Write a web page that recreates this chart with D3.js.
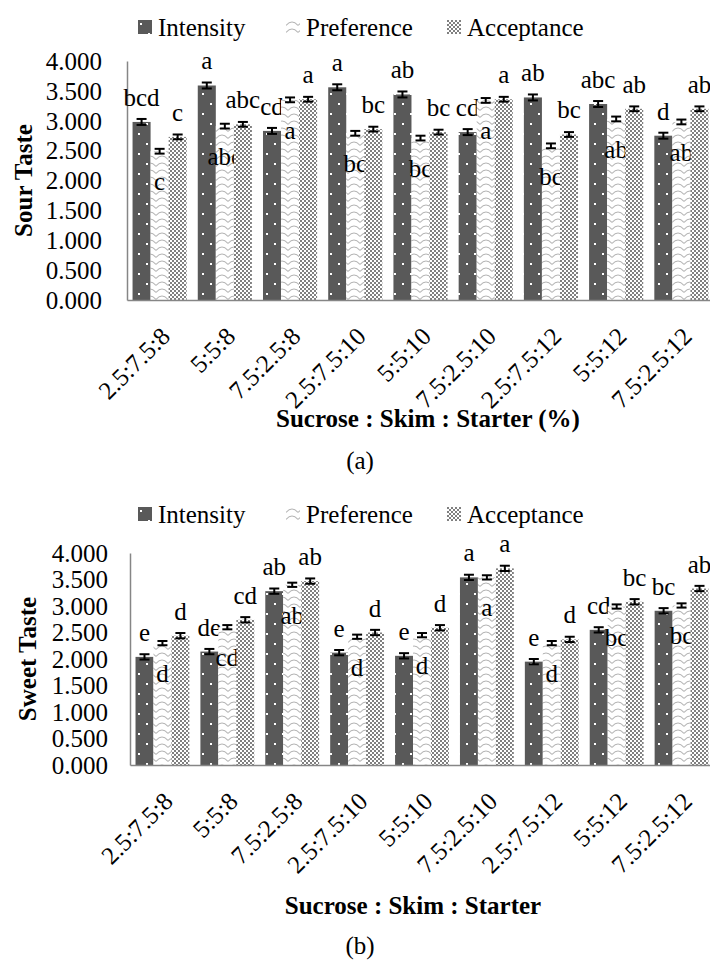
<!DOCTYPE html>
<html>
<head>
<meta charset="utf-8">
<script src="https://cdn.jsdelivr.net/npm/d3@7"></script>
<style>
  body { margin: 0; background: #fff; }
  svg { display: block; }
  text { font-family: "Liberation Serif", "Times New Roman", Times, serif; fill: #000; }
</style>
</head>
<body>
<svg id="chart" width="710" height="960"></svg>
<script>
// treatments (sucrose : skim : starter)
const groups = ["2.5:7.5:8", "5:5:8", "7.5:2.5:8", "2.5:7.5:10", "5:5:10", "7.5:2.5:10", "2.5:7.5:12", "5:5:12", "7.5:2.5:12"]
const seriesNames = ["Intensity", "Preference", "Acceptance"]
const yTicks = [0, 0.5, 1, 1.5, 2, 2.5, 3, 3.5, 4]

// (a) sour taste
const sourIntensity  = [2.98, 3.59, 2.83, 3.56, 3.44, 2.81, 3.39, 3.28, 2.75]
const sourPreference = [2.49, 2.91, 3.35, 2.79, 2.71, 3.34, 2.58, 3.03, 2.98]
const sourAcceptance = [2.73, 2.94, 3.36, 2.86, 2.81, 3.36, 2.77, 3.20, 3.20]
const sourIntensityErr  = [0.05, 0.05, 0.05, 0.05, 0.05, 0.05, 0.05, 0.05, 0.05]
const sourPreferenceErr = [0.04, 0.04, 0.04, 0.04, 0.04, 0.04, 0.04, 0.04, 0.04]
const sourAcceptanceErr = [0.04, 0.04, 0.04, 0.04, 0.04, 0.04, 0.04, 0.04, 0.04]
const sourIntensityLbl  = ["bcd", "a", "cd", "a", "ab", "cd", "ab", "abc", "d"]
const sourPreferenceLbl = ["c", "abc", "a", "bc", "bc", "a", "bc", "ab", "ab"]
const sourAcceptanceLbl = ["c", "abc", "a", "bc", "bc", "a", "bc", "ab", "ab"]

// (b) sweet taste
const sweetIntensity  = [2.04, 2.14, 3.28, 2.12, 2.06, 3.54, 1.95, 2.55, 2.91]
const sweetPreference = [2.30, 2.60, 3.40, 2.42, 2.45, 3.54, 2.30, 2.99, 3.01]
const sweetAcceptance = [2.44, 2.74, 3.47, 2.50, 2.59, 3.71, 2.37, 3.08, 3.33]
const sweetIntensityErr  = [0.05, 0.05, 0.05, 0.05, 0.05, 0.05, 0.05, 0.05, 0.05]
const sweetPreferenceErr = [0.04, 0.04, 0.04, 0.04, 0.04, 0.04, 0.04, 0.04, 0.04]
const sweetAcceptanceErr = [0.05, 0.05, 0.05, 0.05, 0.05, 0.05, 0.05, 0.05, 0.05]
const sweetIntensityLbl  = ["e", "de", "ab", "e", "e", "a", "e", "cd", "bc"]
const sweetPreferenceLbl = ["d", "cd", "ab", "d", "d", "a", "d", "bc", "bc"]
const sweetAcceptanceLbl = ["d", "cd", "ab", "d", "d", "a", "d", "bc", "ab"]

const FONT = '"Liberation Serif", "Times New Roman", Times, serif'

const svg = d3.select('#chart')
svg.append('rect').attr('width', 710).attr('height', 960).attr('fill', '#fff')

//fill patterns like the excel ones
const defs = svg.append('defs')
const pInt = defs.append('pattern').attr('id', 'pInt')
    .attr('patternUnits', 'userSpaceOnUse').attr('width', 16).attr('height', 20)
pInt.append('rect').attr('width', 16).attr('height', 20).attr('fill', '#595959')
pInt.append('rect').attr('x', 2).attr('y', 3).attr('width', 2).attr('height', 2).attr('fill', '#fff')
pInt.append('rect').attr('x', 10).attr('y', 13).attr('width', 2).attr('height', 2).attr('fill', '#fff')

const pPref = defs.append('pattern').attr('id', 'pPref')
    .attr('patternUnits', 'userSpaceOnUse').attr('width', 12).attr('height', 7)
pPref.append('rect').attr('width', 12).attr('height', 7).attr('fill', '#fff')
pPref.append('path').attr('d', 'M0,5.5 Q6,-1.5 12,5.5')
    .attr('fill', 'none').attr('stroke', '#b4b4b4').attr('stroke-width', 1.1)

const pAcc = defs.append('pattern').attr('id', 'pAcc')
    .attr('patternUnits', 'userSpaceOnUse').attr('width', 4).attr('height', 4)
pAcc.append('rect').attr('width', 4).attr('height', 4).attr('fill', '#fff')
pAcc.append('rect').attr('width', 2).attr('height', 2).attr('fill', '#808080')
pAcc.append('rect').attr('x', 2).attr('y', 2).attr('width', 2).attr('height', 2).attr('fill', '#808080')

const fills = ['url(#pInt)', 'url(#pPref)', 'url(#pAcc)']
const fmt = d3.format('.3f')

const panels = [
    {
        values: [sourIntensity, sourPreference, sourAcceptance],
        errs: [sourIntensityErr, sourPreferenceErr, sourAcceptanceErr],
        lbls: [sourIntensityLbl, sourPreferenceLbl, sourAcceptanceLbl],
        left: 127, right: 714, top: 61, bottom: 300,
        legendY: 20, tickPad: 25, xLblDy: 38,
        yTitle: 'Sour Taste', yTitleX: 23,
        xTitle: 'Sucrose : Skim : Starter (%)', xTitleX: 428, xTitleY: 418,
        tag: '(a)', tagY: 460
    },
    {
        values: [sweetIntensity, sweetPreference, sweetAcceptance],
        errs: [sweetIntensityErr, sweetPreferenceErr, sweetAcceptanceErr],
        lbls: [sweetIntensityLbl, sweetPreferenceLbl, sweetAcceptanceLbl],
        left: 130, right: 714, top: 553, bottom: 765,
        legendY: 507, tickPad: 22, xLblDy: 38,
        yTitle: 'Sweet Taste', yTitleX: 27,
        xTitle: 'Sucrose : Skim : Starter', xTitleX: 413, xTitleY: 905,
        tag: '(b)', tagY: 945
    }
]

const legendX = [138, 286, 447]

panels.forEach(p=>{
    const g = svg.append('g')
    const x = d3.scaleBand().domain(groups).range([p.left, p.right])
        .paddingInner(0.17).paddingOuter(0.085)
    const xs = d3.scaleBand().domain(seriesNames).range([0, x.bandwidth()])
    const y = d3.scaleLinear().domain([0, 4]).range([p.bottom, p.top])

    // y axis
    const ya = g.append('g').attr('transform', `translate(${p.left},0)`)
        .call(d3.axisLeft(y).tickValues(yTicks).tickFormat(fmt).tickSize(0).tickPadding(p.tickPad))
    ya.attr('font-family', FONT)
    ya.select('.domain').attr('stroke', '#868686').attr('stroke-width', 1.5)
    ya.selectAll('text').attr('font-size', 25).attr('dy', '0.33em')

    // bars
    seriesNames.forEach((s, si)=>{
        const data = groups.map((grp, i)=>({grp, v: p.values[si][i], e: p.errs[si][i], l: p.lbls[si][i]}))
        const bx = d=>x(d.grp) + xs(s)
        g.append('g').selectAll('rect').data(data).join('rect')
            .attr('x', bx).attr('width', xs.bandwidth())
            .attr('y', d=>y(d.v)).attr('height', d=>y(0) - y(d.v))
            .attr('fill', fills[si])

        // error bars
        const eb = g.append('g').attr('stroke', '#000').attr('stroke-width', 2)
        eb.selectAll('.v').data(data).join('line').attr('class', 'v')
            .attr('x1', d=>bx(d) + xs.bandwidth()/2).attr('x2', d=>bx(d) + xs.bandwidth()/2)
            .attr('y1', d=>y(d.v - d.e)).attr('y2', d=>y(d.v + d.e))
        eb.selectAll('.t').data(data).join('line').attr('class', 't')
            .attr('x1', d=>bx(d) + xs.bandwidth()/2 - 5).attr('x2', d=>bx(d) + xs.bandwidth()/2 + 5)
            .attr('y1', d=>y(d.v + d.e)).attr('y2', d=>y(d.v + d.e))
        eb.selectAll('.b').data(data).join('line').attr('class', 'b')
            .attr('x1', d=>bx(d) + xs.bandwidth()/2 - 5).attr('x2', d=>bx(d) + xs.bandwidth()/2 + 5)
            .attr('y1', d=>y(d.v - d.e)).attr('y2', d=>y(d.v - d.e))

        // letters: preference sits below the bar top, others above
        g.append('g').selectAll('text').data(data).join('text')
            .attr('x', d=>bx(d) + xs.bandwidth()/2)
            .attr('y', d=>si === 1 ? y(d.v) + 39 : y(d.v) - 16)
            .attr('text-anchor', 'middle').attr('font-size', 25)
            .text(d=>d.l)
    })

    // x axis
    const xa = g.append('g').attr('transform', `translate(0,${p.bottom})`)
        .call(d3.axisBottom(x).tickSize(0).tickSizeOuter(0))
    xa.attr('font-family', FONT)
    xa.select('.domain').attr('stroke', '#868686').attr('stroke-width', 1.5)
    xa.selectAll('text').attr('font-size', 25)
        .attr('x', 0).attr('y', 0).attr('dy', 0)
        .attr('text-anchor', 'end')
        .attr('transform', `translate(12,${p.xLblDy}) rotate(-45)`)

    // axis titles
    g.append('text').attr('transform', `translate(${p.yTitleX},${(p.top + p.bottom)/2}) rotate(-90)`)
        .attr('text-anchor', 'middle').attr('dy', '0.35em')
        .attr('font-size', 25).attr('font-weight', 'bold').text(p.yTitle)
    g.append('text').attr('x', p.xTitleX).attr('y', p.xTitleY).attr('dy', '0.35em')
        .attr('text-anchor', 'middle').attr('font-size', 25).attr('font-weight', 'bold').text(p.xTitle)
    g.append('text').attr('x', 360).attr('y', p.tagY).attr('dy', '0.35em')
        .attr('text-anchor', 'middle').attr('font-size', 25).text(p.tag)

    // legend
    const lg = g.append('g').selectAll('g').data(seriesNames).join('g')
        .attr('transform', (d, i)=>`translate(${legendX[i]},${p.legendY})`)
    lg.append('rect').attr('width', 14).attr('height', 14).attr('fill', (d, i)=>fills[i])
    lg.append('text').attr('x', 20).attr('y', 7).attr('dy', '0.35em')
        .attr('font-size', 25).text(d=>d)
})
</script>
</body>
</html>
